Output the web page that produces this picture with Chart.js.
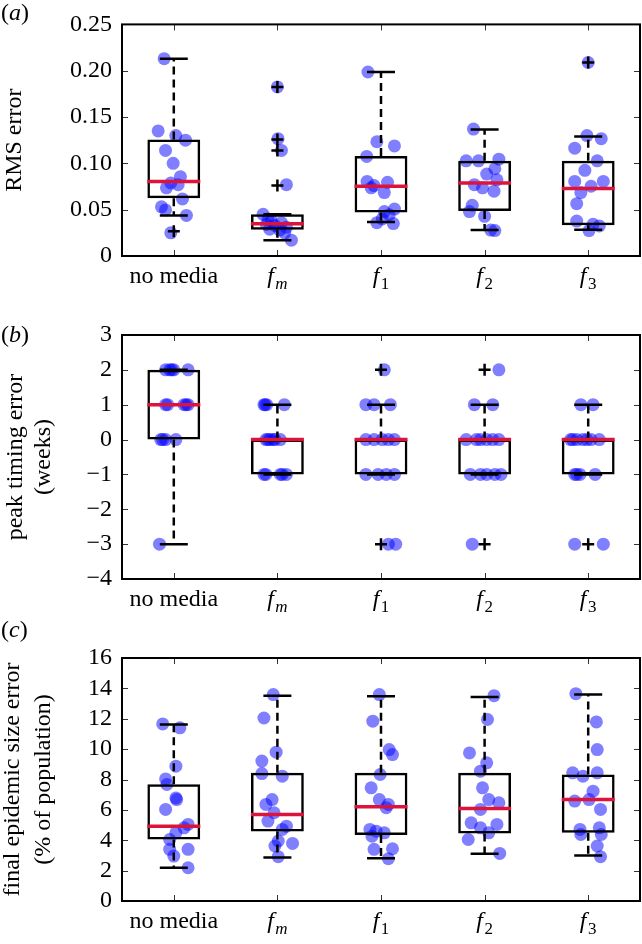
<!DOCTYPE html>
<html><head><meta charset="utf-8">
<script src="https://cdn.jsdelivr.net/npm/chart.js@4.4.0/dist/chart.umd.min.js"></script>
<style>
html,body{margin:0;padding:0;background:#fff;}
body{width:642px;height:944px;position:relative;overflow:hidden;font-family:'Liberation Serif',serif;}
.panel{position:absolute;left:0;width:642px;}
.tag{position:absolute;left:1px;font:24px/24px 'Liberation Serif',serif;color:#000;}
</style></head><body>
<div class="panel" style="top:0;height:300px"><canvas id="ca" width="642" height="300"></canvas></div>
<div class="panel" style="top:300px;height:320px"><canvas id="cb" width="642" height="320"></canvas></div>
<div class="panel" style="top:620px;height:324px"><canvas id="cc" width="642" height="324"></canvas></div>
<div class="tag" style="top:0">(<i>a</i>)</div>
<div class="tag" style="top:322px">(<i>b</i>)</div>
<div class="tag" style="top:617px">(<i>c</i>)</div>
<script>
const categories = ['no media', 'f_m', 'f_1', 'f_2', 'f_3'];

// (a) RMS error
const rmsTicks = [0, 0.05, 0.10, 0.15, 0.20, 0.25];
const rmsQ1 = [0.0623, 0.0284, 0.0469, 0.0486, 0.0332];
const rmsMedian = [0.0805, 0.0349, 0.0753, 0.0788, 0.0729];
const rmsQ3 = [0.1257, 0.0452, 0.1079, 0.1027, 0.1027];
const rmsWhiskerLo = [0.0438, 0.0171, 0.0366, 0.0281, 0.0284];
const rmsWhiskerHi = [0.2130, 0.0452, 0.1986, 0.1366, 0.1291];
const rmsOutliers = [[0.0267], [0.1825, 0.1257, 0.1140, 0.0760], [], [], [0.2089]];
const rmsPoints = [
  [0.213,0.135,0.130,0.125,0.114,0.100,0.0856,0.0788,0.077,0.0736,0.0616,0.0531,0.0497,0.0438,0.025],
  [0.1825,0.1267,0.114,0.077,0.045,0.040,0.038,0.036,0.034,0.033,0.031,0.029,0.028,0.025,0.0171],
  [0.1986,0.1233,0.1188,0.1075,0.0805,0.0795,0.076,0.0736,0.0685,0.0507,0.048,0.0445,0.040,0.036,0.035],
  [0.137,0.1027,0.1027,0.1045,0.0942,0.0884,0.0822,0.077,0.0736,0.070,0.0548,0.048,0.0428,0.028,0.0274],
  [0.2089,0.130,0.1267,0.1164,0.1027,0.0925,0.0805,0.0805,0.0753,0.0685,0.0565,0.0377,0.0342,0.0325,0.0274]
];
const rmsJitter = [
  [-0.093,-0.151,0.019,0.113,-0.080,-0.006,0.064,-0.029,0.042,-0.071,0.084,-0.119,-0.080,0.122,-0.029],
  [0,0.006,0.039,0.087,-0.138,-0.09,-0.058,0.039,-0.106,-0.026,0.087,-0.074,0.022,0.071,0.135],
  [-0.126,-0.040,0.130,-0.138,-0.134,0.063,-0.067,-0.095,0.032,0.130,0.032,0.079,0.012,-0.040,0.119],
  [-0.107,-0.178,-0.059,0.138,0.099,0.020,0.119,-0.099,-0.020,0.091,-0.119,-0.146,0,0.059,0.099],
  [0,-0.012,0.126,-0.130,0.087,-0.032,-0.130,0.146,0.028,-0.071,-0.111,-0.111,0.047,0.107,0.008]
];

// (b) peak timing error (weeks)
const peakTicks = [-4, -3, -2, -1, 0, 1, 2, 3];
const peakQ1 = [0, -1, -1, -1, -1];
const peakMedian = [1, 0, 0, 0, 0];
const peakQ3 = [2, 0, 0, 0, 0];
const peakWhiskerLo = [-3, -1, -1, -1, -1];
const peakWhiskerHi = [2, 1, 1, 1, 1];
const peakOutliers = [[], [], [2, -3], [2, -3], [-3]];
const peakPoints = [
  [2,2,2,2,2,1,1,1,1,1,0,0,0,0,-3],
  [1,1,1,1,0,0,0,0,0,0,-1,-1,-1,-1,-1],
  [2,1,1,1,0,0,0,0,0,-1,-1,-1,-1,-3,-3],
  [2,1,1,0,0,0,0,0,0,-1,-1,-1,-1,-1,-3],
  [1,1,0,0,0,0,0,0,0,-1,-1,-1,-1,-3,-3]
];
const peakJitter = [
  [-0.079,-0.040,-0.020,0,0.138,-0.079,-0.059,0.099,0.119,0.138,-0.126,-0.107,-0.079,0.020,-0.138],
  [-0.130,-0.119,-0.103,0.067,-0.111,-0.091,-0.071,-0.040,-0.024,0.028,-0.130,-0.111,0.028,0.047,0.087],
  [0.032,-0.146,-0.067,0.091,-0.146,-0.067,0.012,0.071,0.130,-0.146,-0.028,0.051,0.130,0.071,0.142],
  [0.138,-0.099,0.079,-0.178,-0.079,-0.040,0.020,0.079,0.138,-0.138,-0.040,0.020,0.099,0.158,-0.119],
  [-0.071,0.047,-0.170,-0.150,-0.111,-0.051,-0.012,0.028,0.107,-0.130,-0.111,-0.079,0.067,-0.130,0.146]
];

// (c) final epidemic size error (% of population)
const finalTicks = [0, 2, 4, 6, 8, 10, 12, 14, 16];
const finalQ1 = [4.05, 4.58, 4.34, 4.45, 4.49];
const finalMedian = [4.93, 5.70, 6.20, 6.09, 6.68];
const finalQ3 = [7.69, 8.44, 8.44, 8.44, 8.33];
const finalWhiskerLo = [2.19, 2.87, 2.81, 3.11, 3.00];
const finalWhiskerHi = [11.62, 13.52, 13.48, 13.44, 13.59];
const finalOutliers = [[], [], [], [], []];
const finalPoints = [
  [11.66,11.40,8.88,8.04,7.67,6.79,6.68,6.03,5.04,4.82,4.49,4.05,3.40,3.40,2.96,2.19],
  [13.59,12.05,9.80,9.21,8.39,8.22,6.68,6.36,5.81,5.26,4.93,4.71,3.95,3.79,3.62,2.92],
  [13.59,11.84,9.97,9.64,8.33,7.45,6.68,6.36,6.14,4.71,4.60,4.49,4.27,3.40,3.44,2.78],
  [13.52,11.95,9.75,9.10,8.55,7.45,6.68,6.47,6.03,5.15,5.04,4.82,4.49,4.05,3.13],
  [13.65,11.79,9.97,8.44,8.44,8.22,7.23,6.58,6.68,6.03,4.71,4.82,4.38,4.38,3.62,2.92]
];
const finalJitter = [
  [-0.107,0.059,0.020,-0.079,-0.067,0.020,0.028,-0.079,0.138,0.099,0.020,-0.040,-0.040,0.138,0,0.138],
  [-0.040,-0.130,-0.012,-0.150,-0.150,0.047,-0.051,-0.111,-0.032,-0.091,0.087,0.047,0.008,0.146,-0.024,0.008],
  [-0.016,-0.079,0.079,0.111,-0.008,-0.095,-0.016,0.071,0.051,-0.107,-0.047,0.032,-0.087,-0.067,0.111,0.071],
  [0.091,0.028,-0.146,0.020,-0.040,-0.020,0.040,0.138,-0.040,-0.130,0.119,-0.040,0.040,-0.158,0.146],
  [-0.119,0.079,0.087,-0.150,0.087,-0.051,0.047,-0.130,0.008,0.119,-0.079,0.107,-0.071,0.126,0.087,0.119]
];

const SERIF = "'Liberation Serif', 'Times New Roman', serif";
const BLUE = 'rgba(0,0,255,0.5)';
const RED = '#dc143c';

const framePlugin = {
  id: 'frame',
  afterDraw(chart) {
    const {ctx, chartArea: a} = chart;
    const x = chart.scales.x, y = chart.scales.y;
    ctx.save();
    ctx.strokeStyle = '#333';
    ctx.lineWidth = 1;
    ctx.beginPath();
    y.ticks.forEach(t => {
      const py = Math.round(y.getPixelForValue(t.value)) + 0.5;
      ctx.moveTo(a.left, py); ctx.lineTo(a.left + 6, py);
      ctx.moveTo(a.right, py); ctx.lineTo(a.right - 6, py);
    });
    categories.forEach((c, i) => {
      const px = Math.round(x.getPixelForValue(i)) + 0.5;
      ctx.moveTo(px, a.top); ctx.lineTo(px, a.top + 6);
      ctx.moveTo(px, a.bottom); ctx.lineTo(px, a.bottom - 6);
    });
    ctx.stroke();
    ctx.strokeStyle = '#000';
    ctx.lineWidth = 2;
    ctx.strokeRect(a.left, a.top, a.right - a.left, a.bottom - a.top);
    // category labels with subscripts
    ctx.fillStyle = '#000';
    ctx.textBaseline = 'alphabetic';
    const base = a.bottom + 27;
    categories.forEach((c, i) => {
      const cx = x.getPixelForValue(i);
      const parts = c.split('_');
      if (parts.length === 1) {
        ctx.font = '24px ' + SERIF;
        ctx.textAlign = 'center';
        ctx.fillText(c, cx, base);
      } else {
        const mainFont = 'italic 24px ' + SERIF;
        const sub = parts[1];
        const subFont = (/\d/.test(sub) ? '' : 'italic ') + '17px ' + SERIF;
        ctx.font = mainFont; const w1 = ctx.measureText(parts[0]).width;
        ctx.font = subFont; const w2 = ctx.measureText(sub).width;
        const gap = 1.5;
        const start = cx - (w1 + gap + w2) / 2;
        ctx.textAlign = 'left';
        ctx.font = mainFont; ctx.fillText(parts[0], start, base);
        ctx.font = subFont; ctx.fillText(sub, start + w1 + gap, base + 6);
      }
    });
    ctx.restore();
  }
};

function buildPanel(id, p) {
  const whiskerData = [];
  categories.forEach((c, i) => {
    whiskerData.push({x: c, y: p.q3[i]}, {x: c, y: p.hi[i]}, {x: c, y: null});
    whiskerData.push({x: c, y: p.q1[i]}, {x: c, y: p.lo[i]}, {x: c, y: null});
  });
  const outlierData = [];
  p.outliers.forEach((arr, i) => arr.forEach(v => outlierData.push({x: categories[i], y: v})));
  const pointData = [];
  p.points.forEach((arr, i) => arr.forEach((v, j) => pointData.push({x: i + p.jitter[i][j], y: v})));

  return new Chart(document.getElementById(id), {
    type: 'bar',
    data: {
      labels: categories,
      datasets: [
        {type: 'scatter', label: 'runs', data: pointData, xAxisID: 'xj', yAxisID: 'y',
          pointRadius: 6.5, pointBackgroundColor: BLUE, pointBorderWidth: 0, pointHoverRadius: 6.5, order: 10},
        {type: 'line', label: 'whiskers', data: whiskerData, xAxisID: 'x', yAxisID: 'y',
          borderColor: '#000', borderWidth: 2.5, borderDash: [8, 5], pointRadius: 0, fill: false, spanGaps: false, order: 4},
        {type: 'bar', label: 'box', data: p.q1.map((v, i) => [v, p.q3[i]]), xAxisID: 'x', yAxisID: 'y',
          backgroundColor: 'rgba(0,0,0,0)', borderColor: '#000', borderWidth: 2.5, borderSkipped: false,
          grouped: false, barPercentage: 0.51, categoryPercentage: 1.0, order: 3},
        {type: 'line', label: 'upper cap', data: p.hi, xAxisID: 'x', yAxisID: 'y', showLine: false,
          pointStyle: 'line', pointRadius: 14, pointBorderWidth: 2.5, pointBorderColor: '#000', order: 2},
        {type: 'line', label: 'lower cap', data: p.lo, xAxisID: 'x', yAxisID: 'y', showLine: false,
          pointStyle: 'line', pointRadius: 14, pointBorderWidth: 2.5, pointBorderColor: '#000', order: 2},
        {type: 'line', label: 'median', data: p.median, xAxisID: 'x', yAxisID: 'y', showLine: false,
          pointStyle: 'line', pointRadius: 26.5, pointBorderWidth: 3.5, pointBorderColor: RED, order: 1},
        {type: 'line', label: 'outliers', data: outlierData, xAxisID: 'x', yAxisID: 'y', showLine: false,
          pointStyle: 'cross', pointRadius: 6, pointBorderWidth: 2.5, pointBorderColor: '#000', order: 0}
      ]
    },
    options: {
      responsive: false,
      animation: false,
      events: [],
      layout: {autoPadding: false, padding: {left: 0, right: 2, top: p.padTop, bottom: 0}},
      plugins: {legend: {display: false}, tooltip: {enabled: false}},
      scales: {
        x: {type: 'category', offset: true, grid: {display: false}, border: {display: false},
          ticks: {display: false}, afterFit: s => { s.height = p.xHeight; }},
        xj: {type: 'linear', axis: 'x', position: 'bottom', display: false, offset: false,
          grid: {offset: false}, min: -0.5, max: 4.5},
        y: {type: 'linear', min: p.ticks[0], max: p.ticks[p.ticks.length - 1],
          grid: {display: false, drawTicks: false}, border: {display: false},
          afterBuildTicks: s => { s.ticks = p.ticks.map(v => ({value: v})); },
          afterFit: s => { s.width = 122; },
          ticks: {autoSkip: false, padding: 10, color: '#000', font: {family: SERIF, size: 24},
            callback: p.fmt},
          title: {display: true, text: p.title, color: '#000',
            font: {family: SERIF, size: 24, lineHeight: p.titleLH}, padding: {top: p.titlePad, bottom: 0}}
        }
      }
    },
    plugins: [framePlugin]
  });
}

buildPanel('ca', {q1: rmsQ1, median: rmsMedian, q3: rmsQ3, lo: rmsWhiskerLo, hi: rmsWhiskerHi,
  outliers: rmsOutliers, points: rmsPoints, jitter: rmsJitter, ticks: rmsTicks,
  fmt: v => v === 0 ? '0' : v.toFixed(2), title: 'RMS error', titleLH: 1.2, titlePad: 0,
  padTop: 13, xHeight: 44});
buildPanel('cb', {q1: peakQ1, median: peakMedian, q3: peakQ3, lo: peakWhiskerLo, hi: peakWhiskerHi,
  outliers: peakOutliers, points: peakPoints, jitter: peakJitter, ticks: peakTicks,
  fmt: v => String(v).replace('-', '\u2212'), title: ['peak timing error', '(weeks)'], titleLH: 1.167, titlePad: 2,
  padTop: 35, xHeight: 41});
buildPanel('cc', {q1: finalQ1, median: finalMedian, q3: finalQ3, lo: finalWhiskerLo, hi: finalWhiskerHi,
  outliers: finalOutliers, points: finalPoints, jitter: finalJitter, ticks: finalTicks,
  fmt: v => String(v), title: ['final epidemic size error', '(% of population)'], titleLH: 1.29, titlePad: -2.5,
  padTop: 38, xHeight: 43});
</script>
</body></html>
